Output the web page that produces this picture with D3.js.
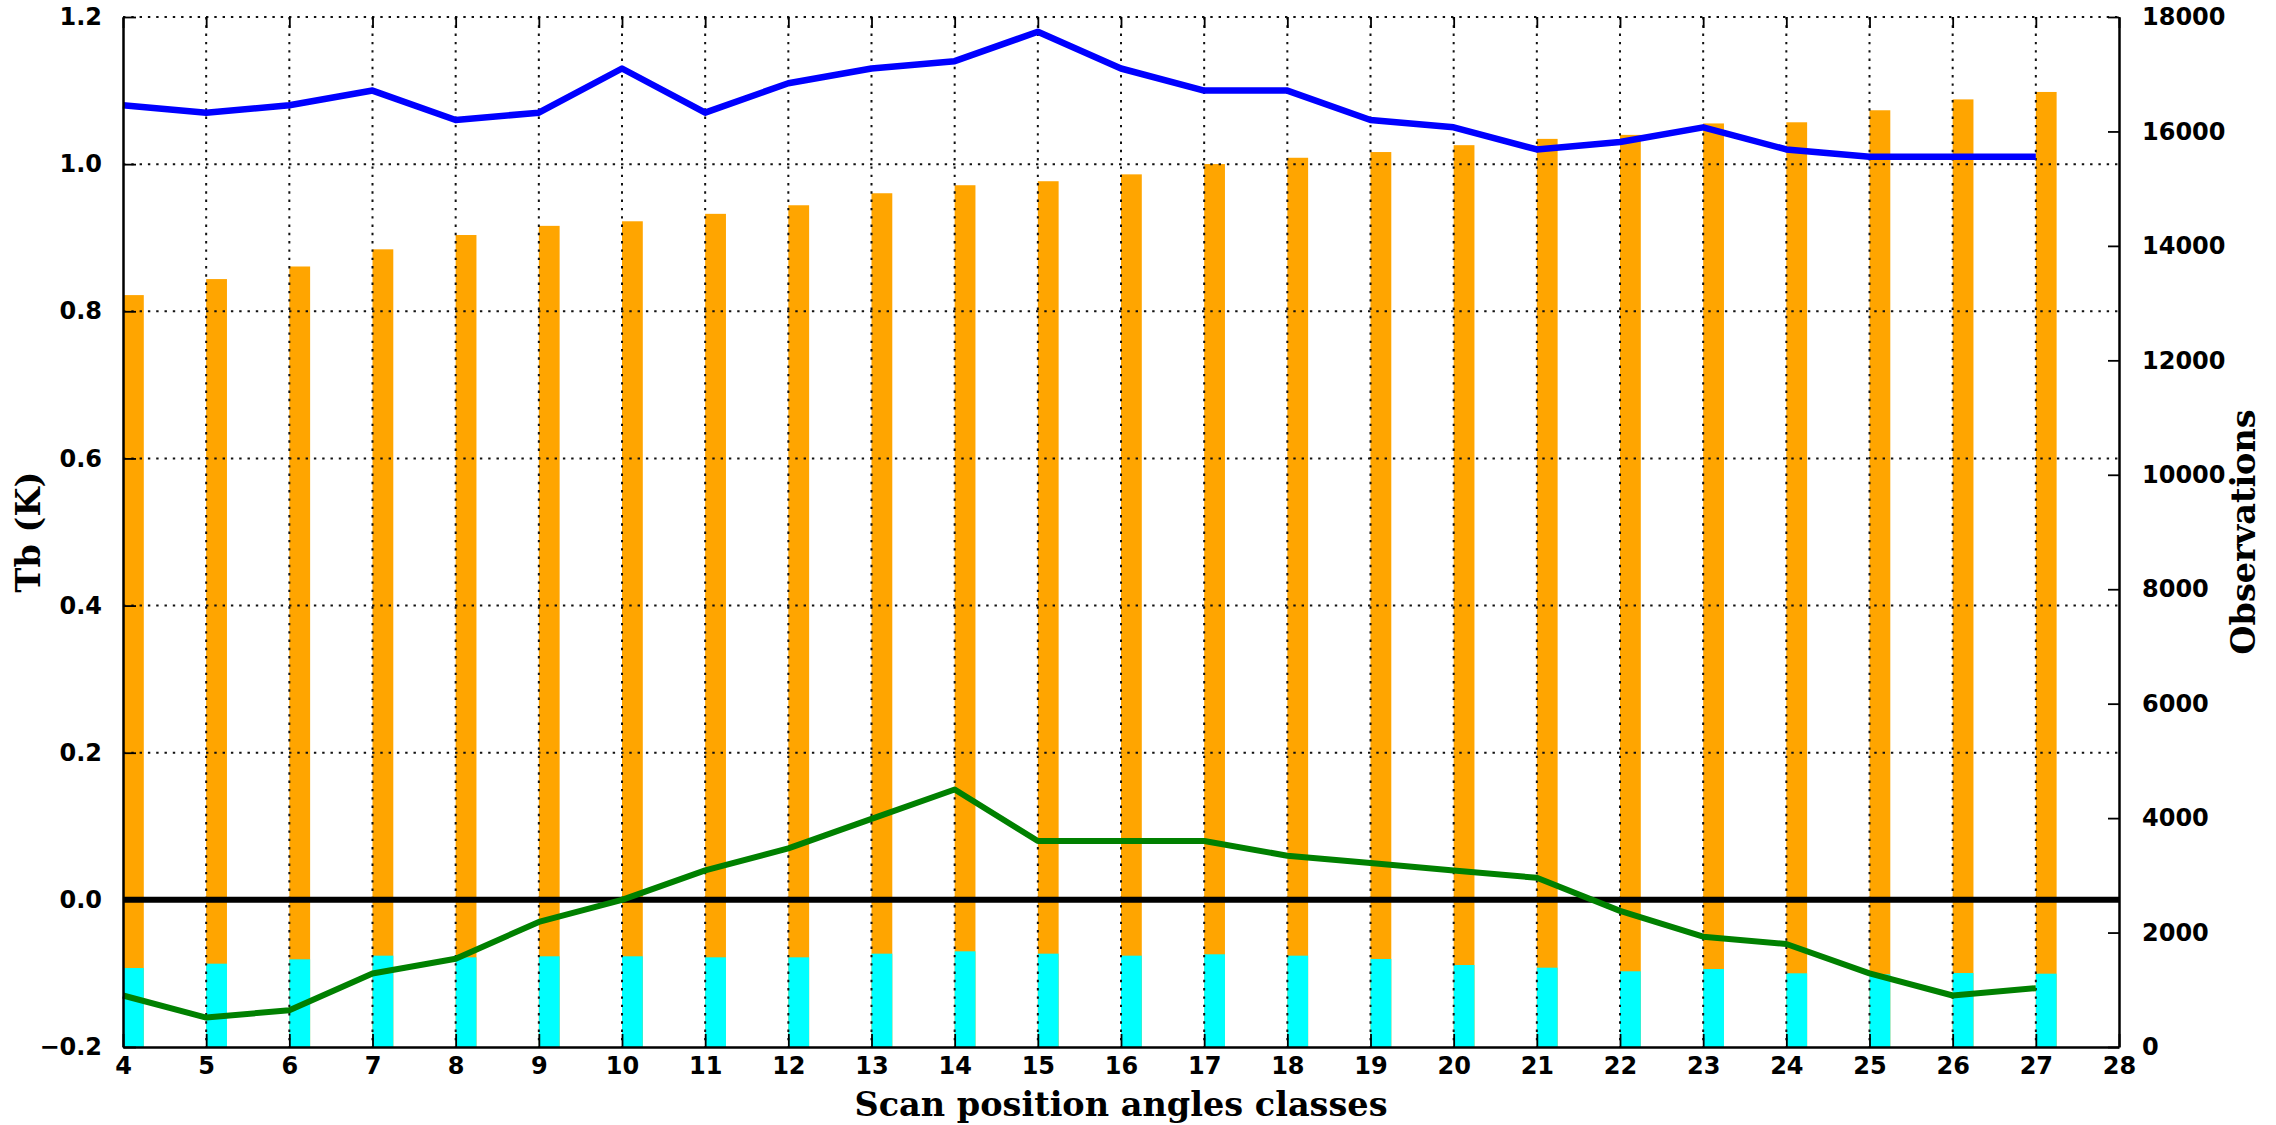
<!DOCTYPE html>
<html>
<head>
<meta charset="utf-8">
<script src="https://cdn.jsdelivr.net/npm/d3@7"></script>
<style>
  html, body { margin: 0; padding: 0; background: #ffffff; }
  svg { display: block; }
</style>
</head>
<body>
<svg id="chart" width="2276" height="1125"></svg>
<script>
// ---- data ----
const classes = [4,5,6,7,8,9,10,11,12,13,14,15,16,17,18,19,20,21,22,23,24,25,26,27];
const obsTotal = [13140,13420,13640,13940,14190,14350,14430,14560,14710,14920,15060,15130,15250,15430,15540,15640,15760,15870,15940,16140,16160,16370,16560,16690];
const obsUsed  = [1380,1456,1532,1596,1567,1585,1585,1567,1567,1631,1672,1631,1596,1620,1596,1538,1433,1386,1323,1363,1288,1270,1293,1281];
const stdDev   = [1.08,1.07,1.08,1.10,1.06,1.07,1.13,1.07,1.11,1.13,1.14,1.18,1.13,1.10,1.10,1.06,1.05,1.02,1.03,1.05,1.02,1.01,1.01,1.01];
const meanBias = [-0.13,-0.16,-0.15,-0.10,-0.08,-0.03,0.00,0.04,0.07,0.11,0.15,0.08,0.08,0.08,0.06,0.05,0.04,0.03,-0.015,-0.05,-0.06,-0.10,-0.13,-0.12];
const xTicks = [4,5,6,7,8,9,10,11,12,13,14,15,16,17,18,19,20,21,22,23,24,25,26,27,28];
const yLeftTicks = [-0.2,0.0,0.2,0.4,0.6,0.8,1.0,1.2];
const yRightTicks = [0,2000,4000,6000,8000,10000,12000,14000,16000,18000];
const xTitle = "Scan position angles classes";
const yLeftTitle = "Tb (K)";
const yRightTitle = "Observations";
const barWidth = 0.25;

// ---- layout ----
const L = 123, R = 2119, T = 17, B = 1047;
const svg = d3.select("#chart");
svg.append("rect").attr("width", 2276).attr("height", 1125).attr("fill", "#fff");

const x = d3.scaleLinear().domain([4, 28]).range([L, R]);
const yL = d3.scaleLinear().domain([-0.2, 1.2]).range([B, T]);
const yR = d3.scaleLinear().domain([0, 18000]).range([B, T]);

const tickFont = "'DejaVu Sans', sans-serif";
const titleFont = "'DejaVu Serif', serif";

// bars
const data = classes.map((c, i) => ({c, tot: obsTotal[i], used: obsUsed[i], sd: stdDev[i], mb: meanBias[i]}));
const bw = x(4 + barWidth) - x(4);
svg.append("g").selectAll("rect").data(data).join("rect")
  .attr("x", d => x(d.c)).attr("width", bw)
  .attr("y", d => yR(d.tot)).attr("height", d => yR(0) - yR(d.tot))
  .attr("fill", "#FFA500");
svg.append("g").selectAll("rect").data(data).join("rect")
  .attr("x", d => x(d.c)).attr("width", bw)
  .attr("y", d => yR(d.used)).attr("height", d => yR(0) - yR(d.used))
  .attr("fill", "#00FFFF");

// grid (dotted)
const grid = svg.append("g").attr("stroke", "#111").attr("stroke-width", 2).attr("stroke-dasharray", "2.4,5.9");
grid.selectAll("line.v").data(xTicks.slice(1, -1)).join("line").attr("class", "v")
  .attr("x1", d => x(d)).attr("x2", d => x(d)).attr("y1", T).attr("y2", B);
grid.selectAll("line.h").data(yLeftTicks.slice(1)).join("line").attr("class", "h")
  .attr("x1", L).attr("x2", R).attr("y1", d => yL(d)).attr("y2", d => yL(d));

// zero line
svg.append("line").attr("x1", L).attr("x2", R).attr("y1", yL(0)).attr("y2", yL(0))
  .attr("stroke", "#000").attr("stroke-width", 6);

// lines
const lineSd = d3.line().x(d => x(d.c)).y(d => yL(d.sd));
const lineMb = d3.line().x(d => x(d.c)).y(d => yL(d.mb));
svg.append("path").datum(data).attr("d", lineSd).attr("fill", "none")
  .attr("stroke", "#0000FF").attr("stroke-width", 6.5).attr("stroke-linejoin", "round");
svg.append("path").datum(data).attr("d", lineMb).attr("fill", "none")
  .attr("stroke", "#008000").attr("stroke-width", 6).attr("stroke-linejoin", "round");

// axes
const axB = svg.append("g").attr("transform", `translate(0,${B})`)
  .call(d3.axisBottom(x).tickValues(xTicks).tickFormat(d3.format("d")).tickSizeInner(-13).tickSizeOuter(0).tickPadding(10));
const axTop = svg.append("g").attr("transform", `translate(0,${T})`)
  .call(d3.axisTop(x).tickValues(xTicks).tickFormat("").tickSizeInner(-11).tickSizeOuter(0));
axTop.select(".domain").remove();
const axL = svg.append("g").attr("transform", `translate(${L},0)`)
  .call(d3.axisLeft(yL).tickValues(yLeftTicks).tickFormat(d => d3.format(".1f")(d).replace("-", "\u2212")).tickSizeInner(-13).tickSizeOuter(0).tickPadding(21));
const axR = svg.append("g").attr("transform", `translate(${R},0)`)
  .call(d3.axisRight(yR).tickValues(yRightTicks).tickFormat(d3.format("d")).tickSizeInner(-11).tickSizeOuter(0).tickPadding(23));

[axB, axTop, axL, axR].forEach(g => {
  g.selectAll(".domain").attr("stroke", "#000").attr("stroke-width", 2.5);
  g.selectAll(".tick line").attr("stroke", "#000").attr("stroke-width", 1.8);
  g.selectAll("text").attr("font-family", tickFont).attr("font-weight", "bold")
    .attr("font-size", 24).attr("fill", "#000");
});

// titles
svg.append("text").attr("x", (L + R) / 2).attr("y", 1116).attr("text-anchor", "middle")
  .attr("font-family", titleFont).attr("font-weight", "bold").attr("font-size", 33.5).text(xTitle);
svg.append("text").attr("transform", `translate(40,${(T + B) / 2}) rotate(-90)`).attr("text-anchor", "middle")
  .attr("font-family", titleFont).attr("font-weight", "bold").attr("font-size", 33.5).text(yLeftTitle);
svg.append("text").attr("transform", `translate(2255,${(T + B) / 2}) rotate(-90)`).attr("text-anchor", "middle")
  .attr("font-family", titleFont).attr("font-weight", "bold").attr("font-size", 33.5).text(yRightTitle);
</script>
</body>
</html>
